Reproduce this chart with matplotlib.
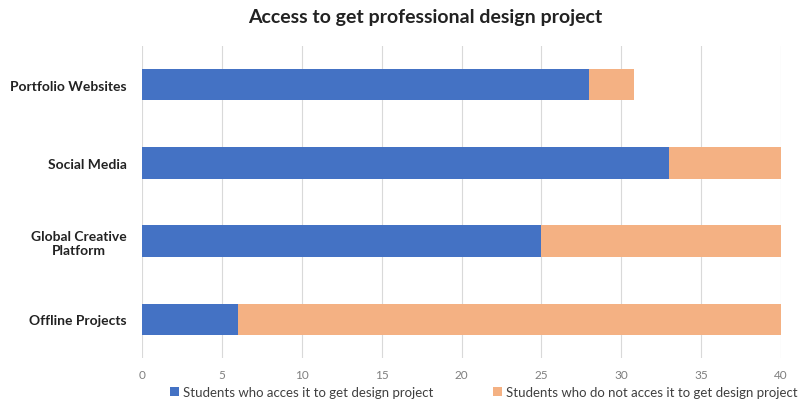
import matplotlib.pyplot as plt
import numpy as np

# data
categories = ["Portfolio Websites", "Social Media", "Global Creative\nPlatform", "Offline Projects"]
access = [28, 33, 25, 6]
no_access = [2.8, 7, 15, 34]
series_names = ["Students who acces it to get design project",
                "Students who do not acces it to get design project"]
ticks = [0, 5, 10, 15, 20, 25, 30, 35, 40]

plt.rcParams['font.family'] = ['Lato', 'DejaVu Sans']

fig = plt.figure(figsize=(8, 4.06), dpi=100)
ax = fig.add_axes([0.1775, 0.115, 0.7988, 0.77])

y = np.arange(len(categories))
ax.barh(y, access, height=0.4, color="#4472C4", label=series_names[0], zorder=3)
ax.barh(y, no_access, left=access, height=0.4, color="#F4B183", label=series_names[1], zorder=3)

ax.set_ylim(len(categories) - 0.5, -0.5)
ax.set_yticks(y)
ax.set_yticklabels(categories, fontweight="bold", fontsize=10, color="#222222",
                   multialignment="center")
ax.set_xlim(0, 40)
ax.set_xticks(ticks)
ax.tick_params(axis="x", labelsize=8.5, labelcolor="#7f7f7f", length=0, pad=8)
ax.tick_params(axis="y", length=0, pad=11)
ax.grid(axis="x", color="#d9d9d9", linewidth=0.8, zorder=0)
for s in ax.spines.values():
    s.set_visible(False)

fig.suptitle("Access to get professional design project", fontsize=14,
             fontweight="bold", x=0.531, y=0.978, color="#222222")
fig.legend(loc="lower center", bbox_to_anchor=(0.605, -0.012), ncol=2, frameon=False,
           fontsize=9.5, handlelength=0.7, handleheight=0.7, handletextpad=0.3,
           columnspacing=4.5, labelcolor="#404040")

fig.savefig("out.png", dpi=100)
